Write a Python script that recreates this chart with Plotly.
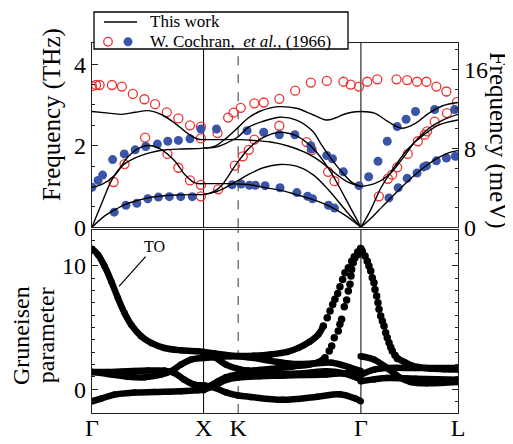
import plotly.graph_objects as go

# ---------------- high-symmetry path ----------------
SYM_LABELS = ["Γ", "X", "K", "Γ", "L"]
SYM_POS = [0.0, 1.0, 1.31, 2.41, 3.28]
THZ_TO_MEV = 4.1357

# ---------------- This work: dispersion (THz) ----------------
GX_LO_K = [0, 0.149, 0.268, 0.387, 0.506, 0.625, 0.744, 0.863, 0.952, 1.0]
GX_LO_F = [2.84, 2.80, 2.77, 2.82, 2.86, 2.76, 2.55, 2.29, 2.16, 2.15]
GX_TO_K = [0, 0.089, 0.208, 0.327, 0.446, 0.536, 0.625, 0.744, 0.833, 0.923, 1.0]
GX_TO_F = [0.98, 1.05, 1.29, 1.74, 1.97, 2.0, 1.90, 1.62, 1.29, 1.09, 1.07]
GX_LA_K = [0, 0.089, 0.179, 0.268, 0.387, 0.506, 0.625, 0.80, 0.952, 1.0]
GX_LA_F = [0, 0.6, 1.17, 1.5, 1.70, 1.82, 1.89, 1.92, 1.93, 1.94]
GX_TA_K = [0, 0.1, 0.2, 0.3, 0.4, 0.5, 0.6, 0.75, 0.9, 1.0]
GX_TA_F = [0, 0.25, 0.42, 0.56, 0.65, 0.72, 0.76, 0.79, 0.80, 0.80]

XG_A_K = [1.0, 1.1, 1.2, 1.31, 1.4, 1.5, 1.6, 1.684, 1.832, 1.98, 2.099, 2.18, 2.247, 2.33, 2.41]
XG_A_F = [1.94, 1.99, 2.18, 2.45, 2.68, 2.84, 2.93, 2.96, 2.92, 2.76, 2.63, 2.68, 2.76, 2.82, 2.84]
XG_B_K = [1.0, 1.1, 1.2, 1.31, 1.4, 1.535, 1.684, 1.832, 1.98, 2.05, 2.128, 2.247, 2.336, 2.41]
XG_B_F = [1.94, 1.96, 2.06, 2.22, 2.45, 2.60, 2.70, 2.63, 2.35, 2.05, 1.74, 1.33, 1.09, 1.0]
XG_C_K = [1.0, 1.2, 1.31, 1.45, 1.6, 1.75, 1.9, 2.0, 2.1, 2.2, 2.3, 2.41]
XG_C_F = [2.15, 2.15, 2.15, 2.13, 2.09, 2.0, 1.85, 1.7, 1.5, 1.28, 1.1, 1.0]
XG_D_K = [1.0, 1.08, 1.16, 1.22, 1.28, 1.34, 1.4, 1.5, 1.6, 1.684, 1.832, 1.98, 2.128, 2.277, 2.41]
XG_D_F = [0.80, 0.86, 1.02, 1.25, 1.5, 1.72, 1.92, 2.15, 2.28, 2.33, 2.24, 1.94, 1.41, 0.68, 0]
XG_E_K = [1.0, 1.1, 1.2, 1.31, 1.4, 1.535, 1.684, 1.832, 1.98, 2.128, 2.277, 2.41]
XG_E_F = [0.80, 0.86, 0.98, 1.15, 1.29, 1.46, 1.54, 1.50, 1.29, 0.89, 0.40, 0]
XG_F_K = [1.0, 1.2, 1.31, 1.4, 1.535, 1.684, 1.832, 1.98, 2.128, 2.277, 2.41]
XG_F_F = [1.07, 1.07, 1.06, 1.05, 0.98, 0.91, 0.80, 0.68, 0.52, 0.28, 0]

GL_LO_K = [2.41, 2.532, 2.654, 2.776, 2.898, 3.02, 3.143, 3.28]
GL_LO_F = [2.84, 2.80, 2.59, 2.43, 2.55, 2.80, 2.98, 3.06]
GL_TO_K = [2.41, 2.532, 2.654, 2.776, 2.898, 3.02, 3.143, 3.28]
GL_TO_F = [1.0, 1.07, 1.27, 1.66, 2.11, 2.43, 2.63, 2.77]
GL_LA_K = [2.41, 2.50, 2.59, 2.715, 2.837, 2.96, 3.11, 3.28]
GL_LA_F = [0, 0.44, 0.97, 1.50, 1.94, 2.24, 2.51, 2.63]
GL_TA_K = [2.41, 2.5, 2.6, 2.7, 2.8, 2.9, 3.0, 3.1, 3.2, 3.28]
GL_TA_F = [0, 0.22, 0.5, 0.78, 1.05, 1.3, 1.52, 1.7, 1.83, 1.88]

# ---------------- W. Cochran et al. (1966) ----------------
RED_K = [0, 0.036, 0.068, 0.179, 0.268, 0.366, 0.470, 0.565, 0.670, 0.774, 0.878, 0.976, 0.976,
         0.476, 0.676, 0.774, 0.878, 0.976, 0.292, 0.193, 0.976,
         1.125, 1.220, 1.268, 1.333, 1.131, 1.280, 1.351,
         1.405, 1.455, 1.455, 1.539, 1.679, 1.821, 1.961, 2.104, 2.253, 2.318, 2.393,
         1.679, 1.923, 1.970, 2.116, 2.173,
         2.467, 2.557, 2.729, 2.824, 2.913, 2.997, 3.086, 3.176, 3.271,
         2.571, 2.652, 2.690, 2.735, 2.830, 2.920, 2.982, 3.003, 3.071, 3.181]
RED_F = [3.46, 3.49, 3.49, 3.49, 3.45, 3.27, 3.14, 3.02, 2.82, 2.67, 2.50, 2.47, 2.18,
         2.20, 1.80, 1.46, 1.15, 1.04, 1.55, 1.11, 0.76,
         2.31, 2.69, 2.81, 2.93, 0.93, 1.51, 1.74,
         1.90, 2.15, 3.04, 3.06, 3.15, 3.35, 3.55, 3.59, 3.57, 3.50, 3.45,
         2.49, 2.09, 1.89, 1.36, 1.13,
         3.57, 3.63, 3.63, 3.61, 3.57, 3.57, 3.45, 3.33, 3.07,
         0.76, 1.19, 1.29, 1.47, 1.80, 2.11, 2.27, 2.35, 2.59, 2.80]
BLUE_K = [0, 0.054, 0.095, 0.185, 0.289, 0.387, 0.482, 0.586, 0.679, 0.774, 0.878, 0.976,
          0.199, 0.304, 0.402, 0.5, 0.595, 0.693, 0.795, 0.899,
          1.116, 1.256, 1.336, 1.411, 1.464, 1.551, 1.685, 1.836, 1.932, 1.976, 2.119, 2.173,
          1.390, 1.539, 1.679, 1.818, 1.961, 1.968, 2.104, 2.155, 2.253, 2.393, 2.479,
          2.563, 2.646, 2.735, 2.815, 2.899, 3.071, 3.25,
          2.661, 2.744, 2.824, 2.913, 2.973, 2.997, 3.086, 3.176, 3.256]
BLUE_F = [0.98, 1.15, 1.28, 1.66, 1.80, 1.90, 1.98, 2.04, 2.11, 2.13, 2.17, 2.41,
          0.37, 0.54, 0.59, 0.70, 0.74, 0.75, 0.75, 0.75,
          2.41, 1.04, 1.06, 1.03, 1.03, 1.02, 0.97, 0.85, 0.76, 0.70, 0.54, 0.47,
          2.37, 2.33, 2.27, 2.27, 2.00, 1.92, 1.76, 1.68, 1.36, 1.02, 1.24,
          1.62, 2.11, 2.47, 2.65, 2.84, 2.89, 2.89,
          0.72, 0.97, 1.20, 1.33, 1.48, 1.51, 1.63, 1.70, 1.74]

# ---------------- Gruneisen parameter ----------------
GR_GX_TO_K = [0, 0.054, 0.113, 0.173, 0.232, 0.292, 0.351, 0.440, 0.530, 0.649, 0.798, 0.946, 1.0]
GR_GX_TO_G = [11.37, 10.89, 9.95, 8.73, 7.39, 6.17, 5.23, 4.29, 3.75, 3.34, 3.15, 3.07, 3.02]
GR_GX_U_K = [0, 0.143, 0.321, 0.470, 0.619, 0.708, 0.798, 0.887, 1.0]
GR_GX_U_G = [1.40, 1.24, 1.02, 0.97, 1.19, 1.46, 2.0, 2.40, 2.53]
GR_GX_D_K = [0, 0.143, 0.321, 0.5, 0.649, 0.738, 0.827, 0.917, 1.0]
GR_GX_D_G = [1.40, 1.40, 1.46, 1.51, 1.51, 1.32, 0.78, 0.38, 0.32]
GR_GX_TA_K = [0, 0.083, 0.202, 0.381, 0.56, 0.798, 0.946, 1.0]
GR_GX_TA_G = [-0.97, -0.75, -0.43, -0.27, -0.22, -0.16, -0.08, -0.05]

GR_P1_K = [1.0, 1.1, 1.2, 1.31, 1.45, 1.6, 1.75, 1.85, 1.95, 2.03, 2.073]
GR_P1_G = [3.02, 2.9, 2.78, 2.70, 2.72, 2.82, 3.02, 3.35, 3.85, 4.45, 5.12]
GR_P1_DOT_K = [2.073, 2.108, 2.133, 2.157, 2.177, 2.202, 2.222, 2.246, 2.267, 2.297, 2.327, 2.350, 2.381, 2.408]
GR_P1_DOT_G = [5.12, 5.79, 6.33, 6.87, 7.28, 7.76, 8.30, 8.89, 9.43, 9.84, 10.37, 10.72, 11.10, 11.38]
GR_P2_K = [1.0, 1.1, 1.2, 1.31, 1.4, 1.6, 1.8, 1.95, 2.03, 2.088]
GR_P2_G = [3.02, 2.6, 2.0, 1.65, 1.51, 1.65, 1.85, 2.0, 2.2, 2.56]
GR_P2_DOT_K = [2.088, 2.126, 2.148, 2.171, 2.207, 2.222, 2.237, 2.261, 2.282, 2.297, 2.312, 2.321, 2.327, 2.341, 2.357, 2.386]
GR_P2_DOT_G = [2.56, 3.10, 3.50, 4.18, 4.71, 5.26, 5.66, 6.68, 7.22, 7.95, 8.49, 9.16, 9.70, 10.24, 10.64, 10.91]
GR_U_K = [1.0, 1.1, 1.24, 1.4, 1.6, 1.8, 2.0, 2.15, 2.3, 2.408]
GR_U_G = [2.53, 2.6, 2.67, 2.6, 2.3, 2.05, 2.1, 2.15, 1.8, 1.48]
GR_TAA_K = [1.0, 1.05, 1.13, 1.2, 1.31, 1.5, 1.7, 1.9, 2.1, 2.25, 2.408]
GR_TAA_G = [-0.05, 0.24, 0.65, 0.97, 1.2, 1.3, 1.25, 1.3, 1.45, 1.3, 0.81]
GR_TAB_K = [1.0, 1.1, 1.2, 1.31, 1.5, 1.7, 1.9, 2.1, 2.25, 2.408]
GR_TAB_G = [-0.05, 0.3, 0.75, 0.95, 1.05, 1.1, 1.15, 1.2, 1.3, 1.29]
GR_D_K = [1.0, 1.1, 1.2, 1.31, 1.42, 1.71, 2.02, 2.22, 2.36, 2.408]
GR_D_G = [0.32, 0.12, -0.25, -0.5, -0.62, -0.85, -0.6, -0.4, -0.75, -0.97]

GR_GL_TO_DOT_K = [2.408, 2.422, 2.447, 2.467, 2.482, 2.498, 2.512, 2.527, 2.536, 2.551, 2.563,
                  2.572, 2.587, 2.602, 2.617, 2.632, 2.646, 2.662, 2.677, 2.691, 2.715, 2.736]
GR_GL_TO_DOT_G = [11.4, 11.18, 10.78, 10.37, 9.97, 9.57, 9.03, 8.62, 8.08, 7.54, 7.0,
                  6.47, 5.93, 5.52, 5.12, 4.58, 4.18, 3.77, 3.40, 3.10, 2.75, 2.5]
GR_GL_TO_K = [2.736, 2.8, 2.86, 2.92, 3.03, 3.16, 3.28]
GR_GL_TO_G = [2.5, 2.2, 1.95, 1.8, 1.68, 1.62, 1.6]
GR_GL_LO_K = [2.408, 2.527, 2.646, 2.766, 2.855, 3.0, 3.28]
GR_GL_LO_G = [2.67, 2.40, 1.72, 0.91, 0.59, 0.48, 0.59]
GR_GL_LA_K = [2.408, 2.527, 2.646, 2.9, 3.28]
GR_GL_LA_G = [1.18, 1.59, 1.72, 1.72, 1.72]
GR_GL_TA_K = [2.408, 2.527, 2.646, 2.9, 3.28]
GR_GL_TA_G = [0.64, 0.80, 0.91, 0.85, 0.78]

# ---------------- styling ----------------
FONT = "Liberation Serif"
RED = "#ee3333"
BLUE = "#3a55a8"
AXC = "#222222"

fig = go.Figure()

# experimental data (top panel)
fig.add_trace(go.Scatter(x=RED_K, y=RED_F, mode="markers", xaxis="x2", yaxis="y",
                         marker=dict(symbol="circle-open", size=9, color=RED, line=dict(width=1.3, color=RED))))
fig.add_trace(go.Scatter(x=BLUE_K, y=BLUE_F, mode="markers", xaxis="x2", yaxis="y",
                         marker=dict(symbol="circle", size=9, color=BLUE, line=dict(width=0))))

disp = [(GX_LO_K, GX_LO_F), (GX_TO_K, GX_TO_F), (GX_LA_K, GX_LA_F), (GX_TA_K, GX_TA_F),
        (XG_A_K, XG_A_F), (XG_B_K, XG_B_F), (XG_C_K, XG_C_F), (XG_D_K, XG_D_F),
        (XG_E_K, XG_E_F), (XG_F_K, XG_F_F),
        (GL_LO_K, GL_LO_F), (GL_TO_K, GL_TO_F), (GL_LA_K, GL_LA_F), (GL_TA_K, GL_TA_F)]
for k, f in disp:
    fig.add_trace(go.Scatter(x=k, y=f, mode="lines", xaxis="x2", yaxis="y",
                             line=dict(color="black", width=1.4, shape="spline", smoothing=1.0)))

# Gruneisen (bottom panel)
gr_lines = [(GR_GX_TO_K, GR_GX_TO_G), (GR_GX_U_K, GR_GX_U_G), (GR_GX_D_K, GR_GX_D_G),
            (GR_GX_TA_K, GR_GX_TA_G), (GR_P1_K, GR_P1_G), (GR_P2_K, GR_P2_G),
            (GR_U_K, GR_U_G), (GR_TAA_K, GR_TAA_G), (GR_TAB_K, GR_TAB_G), (GR_D_K, GR_D_G),
            (GR_GL_TO_K, GR_GL_TO_G), (GR_GL_LO_K, GR_GL_LO_G), (GR_GL_LA_K, GR_GL_LA_G),
            (GR_GL_TA_K, GR_GL_TA_G)]
for k, g in gr_lines:
    fig.add_trace(go.Scatter(x=k, y=g, mode="lines+markers", xaxis="x", yaxis="y2",
                             line=dict(color="black", width=6.5, shape="spline", smoothing=1.0),
                             marker=dict(size=6.5, color="black")))
gr_dots = [(GR_P1_DOT_K, GR_P1_DOT_G), (GR_P2_DOT_K, GR_P2_DOT_G), (GR_GL_TO_DOT_K, GR_GL_TO_DOT_G)]
for k, g in gr_dots:
    fig.add_trace(go.Scatter(x=k, y=g, mode="markers", xaxis="x", yaxis="y2",
                             marker=dict(size=7.5, color="black")))

# a dummy trace so the meV axis is drawn
fig.add_trace(go.Scatter(x=[None], y=[None], xaxis="x2", yaxis="y3", showlegend=False))

# vertical symmetry lines
shapes = []
for xr, yr in (("x2", "y domain"), ("x", "y2 domain")):
    for i in (1, 3):
        shapes.append(dict(type="line", xref=xr, yref=yr, x0=SYM_POS[i], x1=SYM_POS[i], y0=0, y1=1,
                           line=dict(color="black", width=1), layer="below"))
    shapes.append(dict(type="line", xref=xr, yref=yr, x0=SYM_POS[2], x1=SYM_POS[2], y0=0, y1=1,
                       line=dict(color="#555555", width=1.2, dash="dash"), layer="below"))

# legend (drawn manually, above the plot top edge)
shapes.append(dict(type="rect", xref="paper", yref="paper", x0=0.0055, x1=0.6995, y0=0.9838, y1=1.0838,
                   line=dict(color="black", width=1.3), fillcolor="white", layer="above"))
shapes.append(dict(type="line", xref="paper", yref="paper", x0=0.033, x1=0.123, y0=1.0568, y1=1.0568,
                   line=dict(color="black", width=1.4), layer="above"))
shapes.append(dict(type="circle", xref="paper", yref="paper", x0=0.0437 - 0.0117, x1=0.0437 + 0.0117,
                   y0=1.0035 - 0.0116, y1=1.0035 + 0.0116, line=dict(color=RED, width=1.3),
                   fillcolor="white", layer="above"))
shapes.append(dict(type="circle", xref="paper", yref="paper", x0=0.0984 - 0.0117, x1=0.0984 + 0.0117,
                   y0=1.0035 - 0.0116, y1=1.0035 + 0.0116, line=dict(color=BLUE, width=0.5),
                   fillcolor=BLUE, layer="above"))

annotations = [
    dict(text="This work", xref="paper", yref="paper", x=0.153, y=1.0568, xanchor="left", yanchor="middle",
         showarrow=False, font=dict(family=FONT, size=17, color="black")),
    dict(text="W. Cochran,  <i>et al.</i>, (1966)", xref="paper", yref="paper", x=0.153, y=1.0035,
         xanchor="left", yanchor="middle", showarrow=False, font=dict(family=FONT, size=17, color="black")),
    dict(text="Frequency (THz)", xref="paper", yref="paper", x=-0.1093, y=0.808, textangle=-90,
         xanchor="center", yanchor="middle", showarrow=False, font=dict(family=FONT, size=25, color="black")),
    dict(text="Frequency (meV)", xref="paper", yref="paper", x=1.11, y=0.738, textangle=90,
         xanchor="center", yanchor="middle", showarrow=False, font=dict(family=FONT, size=25, color="black")),
    dict(text="Gruneisen", xref="paper", yref="paper", x=-0.194, y=0.2108, textangle=-90,
         xanchor="center", yanchor="middle", showarrow=False, font=dict(family=FONT, size=24, color="black")),
    dict(text="parameter", xref="paper", yref="paper", x=-0.125, y=0.2108, textangle=-90,
         xanchor="center", yanchor="middle", showarrow=False, font=dict(family=FONT, size=24, color="black")),
    dict(text="TO", xref="x", yref="y2", x=0.242, y=8.33, axref="x", ayref="y2", ax=0.56, ay=11.55,
         showarrow=True, arrowhead=0, arrowwidth=1.2, arrowcolor="black", standoff=0,
         font=dict(family=FONT, size=16, color="black")),
]

tickfont = dict(family=FONT, size=24, color="black")
axline = dict(showline=True, linecolor=AXC, linewidth=1.3, showgrid=False, zeroline=False, automargin=False)

# the page body adds an 8px offset, so the figure is 8px smaller and margins shifted
fig.update_layout(
    width=505, height=436, margin=dict(l=84, r=55, t=35, b=31, autoexpand=False),
    paper_bgcolor="white", plot_bgcolor="white", showlegend=False,
    xaxis=dict(domain=[0, 1], anchor="y2", range=[0, 3.28], tickvals=SYM_POS, ticktext=SYM_LABELS,
               ticks="", mirror=True, ticklabelstandoff=-7,
               tickfont=dict(family=FONT, size=24, color="black"), **axline),
    xaxis2=dict(domain=[0, 1], anchor="y", range=[0, 3.28], matches="x", showticklabels=False,
                ticks="", mirror=True, **axline),
    yaxis=dict(domain=[0.502, 1], anchor="x2", range=[0, 4.52], tickvals=[0, 2, 4], ticks="inside",
               ticklen=6, tickcolor=AXC, tickfont=tickfont, mirror=False,
               minor=dict(dtick=0.5, ticks="inside", ticklen=3, tickcolor=AXC), **axline),
    yaxis3=dict(overlaying="y", anchor="x2", side="right", range=[0, 4.52 * THZ_TO_MEV],
                tickvals=[0, 8, 16], ticks="inside", ticklen=6, tickcolor=AXC, tickfont=tickfont,
                minor=dict(dtick=2, ticks="inside", ticklen=3, tickcolor=AXC), **axline),
    yaxis2=dict(domain=[0, 0.4946], anchor="x", range=[-1.92, 12.89], tickvals=[0, 10], ticks="inside",
                ticklen=6, tickcolor=AXC, tickfont=tickfont, mirror="ticks",
                minor=dict(dtick=1, ticks="inside", ticklen=3, tickcolor=AXC), **axline),
    shapes=shapes, annotations=annotations,
)

fig.write_html("out.html")
